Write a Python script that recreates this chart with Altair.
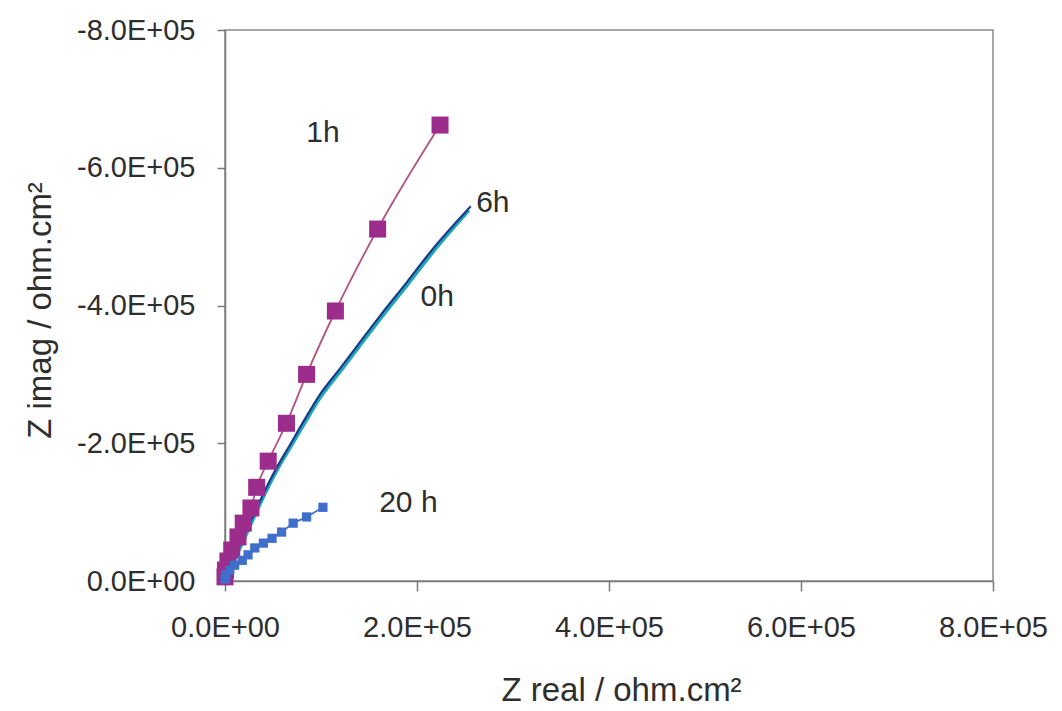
import altair as alt
import pandas as pd

# 1h series (squares + line), values in ohm.cm2 (Zimag negative)
h1_x = [0, 500, 3000, 7000, 13500, 19000, 27000, 33000, 45000, 64000, 85000, 115000, 159000, 224000]
h1_y = [-6000, -16000, -29000, -45000, -64000, -84000, -106000, -136000, -174000, -229000, -300000, -392000, -511000, -662000]

# 20 h series (small squares + line)
h20_x = [0, 1000, 5000, 10000, 18000, 24000, 31000, 40000, 49000, 59000, 71000, 85000, 102000]
h20_y = [-3000, -9000, -16000, -23000, -30000, -38000, -48000, -55000, -62000, -71000, -84000, -93000, -107000]

# 0h series (line only)
h0_x = [0, 8000, 18000, 30000, 44500, 55000, 68000, 82500, 99500, 120500, 138500, 162500, 190500, 214500, 254000]
h0_y = [0, -25000, -55000, -92000, -135000, -163000, -194000, -228000, -267000, -305000, -338000, -382000, -431000, -474000, -538000]

# 6h series (line only)
h6_x = [0, 7000, 17000, 29000, 43500, 54000, 67000, 81500, 98500, 119500, 137500, 161500, 189500, 213500, 256000]
h6_y = [0, -26000, -57000, -94000, -137000, -165000, -196000, -231000, -270000, -308000, -341000, -385000, -434000, -477000, -544000]

# annotation labels
lab_text = ["1h", "6h", "0h", "20  h"]
lab_x = [102000, 279000, 221000, 191000]
lab_y = [-650000, -549000, -412000, -113000]

x_ticks = [0, 200000, 400000, 600000, 800000]
y_ticks = [0, -200000, -400000, -600000, -800000]

FONT = "Liberation Sans"
TXT = "#2e2e2e"

def frame(xs, ys):
    return pd.DataFrame({"x": xs, "y": ys, "i": list(range(len(xs)))})

label_expr = "datum.value == 0 ? '0.0E+00' : (datum.value < 0 ? '-' : '') + format(abs(datum.value) / 100000, '.1f') + 'E+05'"

xenc = alt.X("x:Q",
             scale=alt.Scale(domain=[0, 800000], nice=False, zero=False),
             axis=alt.Axis(values=x_ticks, labelExpr=label_expr, grid=False,
                           labelFlush=False, labelOverlap=False,
                           title="Z real / ohm.cm²", tickSize=10, labelPadding=22,
                           titleX=396, titleY=109, titleBaseline="middle",
                           titleAnchor="start", titleAlign="center"))
yenc = alt.Y("y:Q",
             scale=alt.Scale(domain=[0, -800000], nice=False, zero=False),
             axis=alt.Axis(values=y_ticks, labelExpr=label_expr, grid=False,
                           labelFlush=False, labelOverlap=False,
                           title="Z imag / ohm.cm²", tickSize=8, labelPadding=22,
                           titleX=-185, titleY=280, titleBaseline="middle",
                           titleAlign="center", titleAngle=270))

d0 = frame(h0_x, h0_y)
d6 = frame(h6_x, h6_y)
d1 = frame(h1_x, h1_y)
d20 = frame(h20_x, h20_y)

line0 = alt.Chart(d0).mark_line(color="#1fa8b3", strokeWidth=3.5, interpolate="monotone").encode(x=xenc, y=yenc, order="i:Q")
line6 = alt.Chart(d6).mark_line(color="#1d3a8c", strokeWidth=2.2, interpolate="monotone").encode(x=xenc, y=yenc, order="i:Q")
line1 = alt.Chart(d1).mark_line(color="#b5527f", strokeWidth=1.8, interpolate="monotone").encode(x=xenc, y=yenc, order="i:Q")
pts1 = alt.Chart(d1).mark_point(shape="square", filled=True, size=290, color="#9c2d8d", opacity=1).encode(x=xenc, y=yenc)
line20 = alt.Chart(d20).mark_line(color="#3f6fcb", strokeWidth=1.8).encode(x=xenc, y=yenc, order="i:Q")
pts20 = alt.Chart(d20).mark_point(shape="square", filled=True, size=85, color="#3f6fcb", opacity=1).encode(x=xenc, y=yenc)

labels = alt.Chart(pd.DataFrame({"t": lab_text, "x": lab_x, "y": lab_y})).mark_text(
    font=FONT, fontSize=30, color=TXT, align="center", baseline="middle"
).encode(x=xenc, y=yenc, text="t:N")

chart = alt.layer(line0, line6, line1, pts1, line20, pts20, labels).properties(
    width=768, height=551,
    autosize=alt.AutoSizeParams(type="none"),
    padding={"left": 225, "top": 30, "right": 69, "bottom": 130},
    background="white",
).configure_view(
    stroke="#8a8a8a", strokeWidth=1.5
).configure_axis(
    labelFont=FONT, titleFont=FONT, labelFontSize=29, titleFontSize=33,
    labelColor=TXT, titleColor=TXT, titleFontWeight="normal",
    domainColor="#7a7a7a", tickColor="#7a7a7a", domainWidth=1.5, tickWidth=1.5,
)

chart.save("out.html", embed_options={"renderer": "svg", "actions": False})
